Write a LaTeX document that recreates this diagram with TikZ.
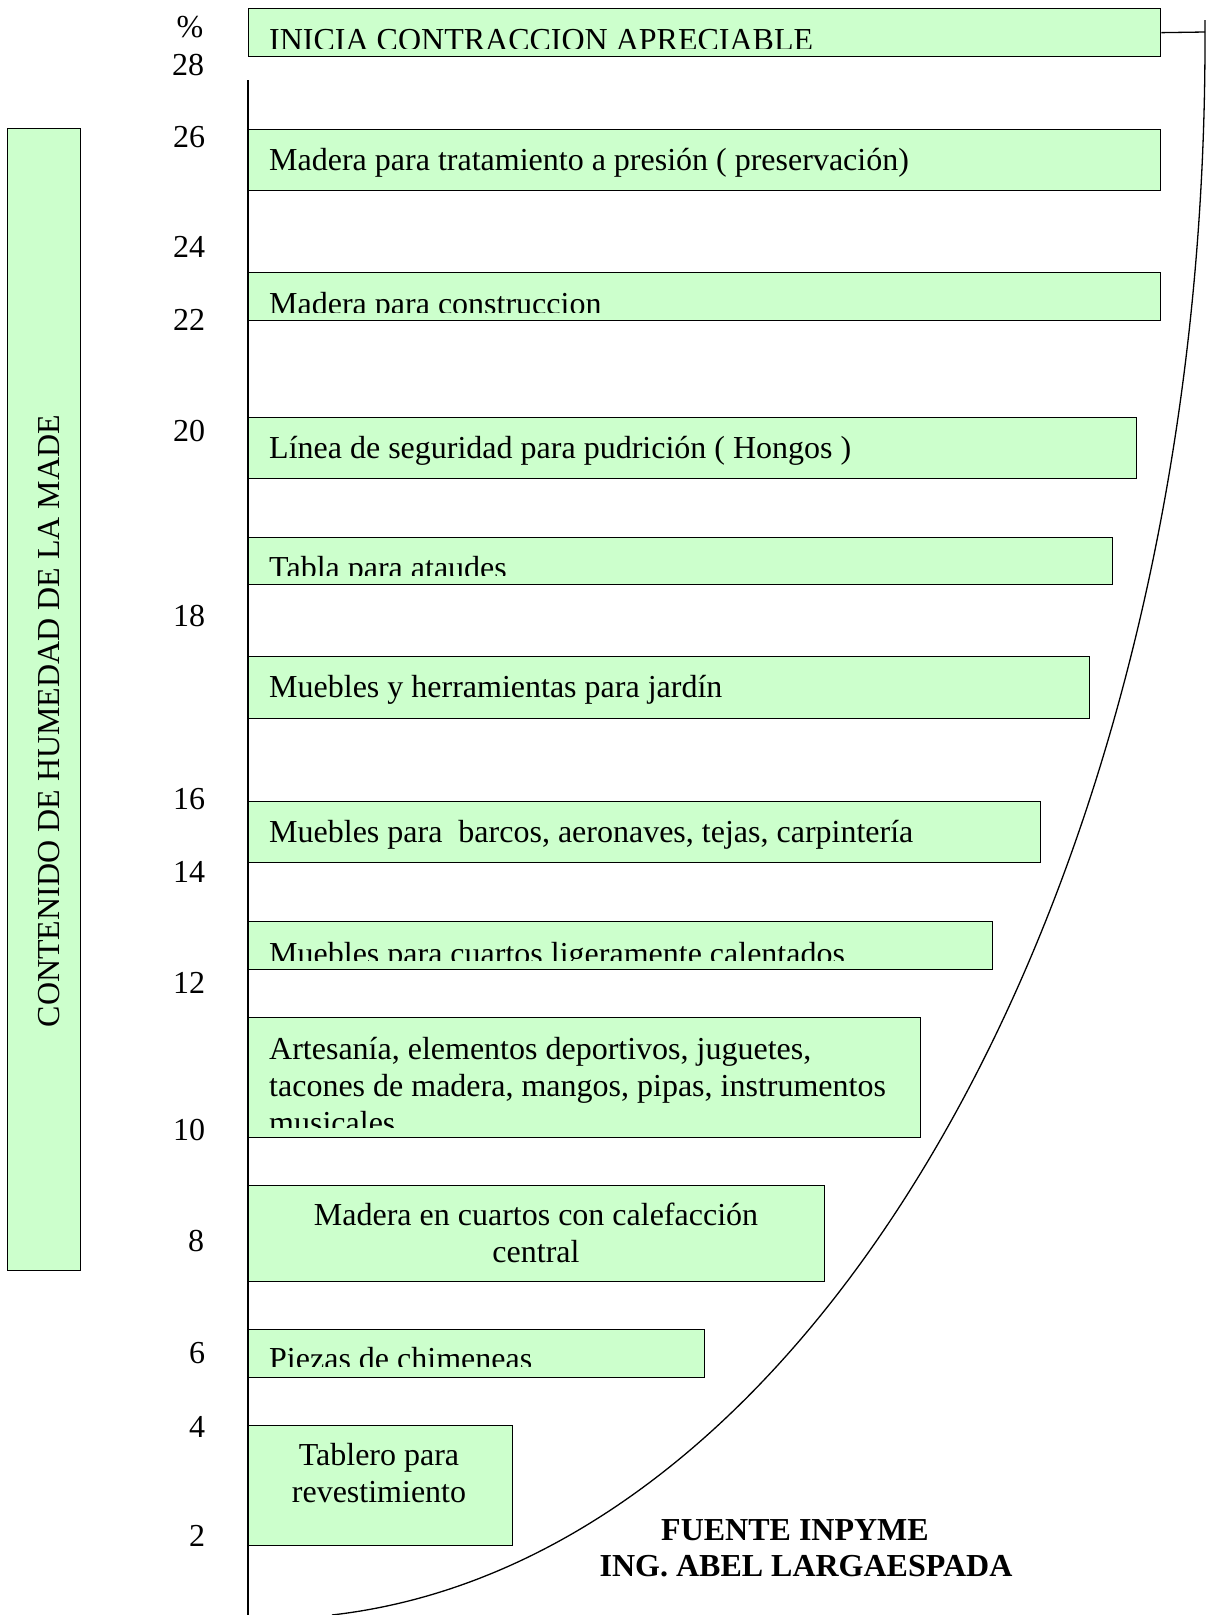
\documentclass[tikz,border=0pt]{standalone}
\usepackage{fontspec}
\setmainfont{Liberation Serif}
\definecolor{barfill}{RGB}{204,255,204}
\tikzset{
  barbox/.style={draw, line width=1.3pt, fill=barfill, rectangle, inner sep=0pt, anchor=north west},
  bartext/.style={anchor=base west, inner sep=0pt},
  midtext/.style={anchor=base, inner sep=0pt},
  numtext/.style={anchor=base, inner sep=0pt}
}
\begin{document}
\begin{tikzpicture}[x=1pt,y=-1pt,font=\fontsize{32}{37}\selectfont]
\useasboundingbox (0,0) rectangle (1206,1615);
% eje y curva
\coordinate (axtop) at (248,80);
\coordinate (axbot) at (248,1615);
\draw[line width=1.3pt] (axtop) -- (axbot);
\coordinate (arctop) at (1205,20);
\coordinate (arcstart) at (1205,40);
\coordinate (bend) at (1205,32);
\draw[line width=1.3pt] (arctop) -- (arcstart) arc[start angle=0, end angle=-86.14, x radius=936pt, y radius=1578.6pt];
% barras
\node[barbox, minimum width=912pt, minimum height=48pt] (b28) at (248,8){};
\node[barbox, minimum width=912pt, minimum height=61pt] (b26) at (248,129){};
\node[barbox, minimum width=912pt, minimum height=48pt] (b22) at (248,272){};
\node[barbox, minimum width=888pt, minimum height=61pt] (b20) at (248,417){};
\node[barbox, minimum width=864pt, minimum height=47pt] (b19) at (248,537){};
\node[barbox, minimum width=841pt, minimum height=62pt] (b17) at (248,656){};
\node[barbox, minimum width=792pt, minimum height=61pt] (b15) at (248,801){};
\node[barbox, minimum width=744pt, minimum height=48pt] (b13) at (248,921){};
\node[barbox, minimum width=672pt, minimum height=120pt] (b11) at (248,1017){};
\node[barbox, minimum width=576pt, minimum height=96pt] (b8) at (248,1185){};
\node[barbox, minimum width=456pt, minimum height=48pt] (b6) at (248,1329){};
\node[barbox, minimum width=264pt, minimum height=120pt] (b3) at (248,1425){};
\draw[line width=1.3pt] (b28.east) -- (bend);
% textos
\begin{scope}
\clip (248,8) rectangle (1160,48);
\node[bartext] (t28) at (269,50){INICIA CONTRACCION APRECIABLE};
\end{scope}
\node[bartext] (t26) at (269,170){Madera para tratamiento a presión ( preservación)};
\begin{scope}
\clip (248,272) rectangle (1160,312);
\node[bartext] (t22) at (269,314){Madera para construccion};
\end{scope}
\node[bartext] (t20) at (269,458){Línea de seguridad para pudrición ( Hongos )};
\begin{scope}
\clip (248,537) rectangle (1112,575);
\node[bartext] (t19) at (269,578){Tabla para ataudes};
\end{scope}
\node[bartext] (t17) at (269,697){Muebles y herramientas para jardín};
\node[bartext] (t15) at (269,842){Muebles para \ barcos, aeronaves, tejas, carpintería};
\begin{scope}
\clip (248,921) rectangle (992,960);
\node[bartext] (t13) at (269,964){Muebles para cuartos ligeramente calentados};
\end{scope}
\node[bartext] (t11a) at (269,1059){Artesanía, elementos deportivos, juguetes,};
\node[bartext] (t11b) at (269,1096){tacones de madera, mangos, pipas, instrumentos};
\begin{scope}
\clip (248,1017) rectangle (920,1127);
\node[bartext] (t11c) at (269,1133){musicales};
\end{scope}
\node[midtext] (t8a) at (536,1225){Madera en cuartos con calefacción};
\node[midtext] (t8b) at (536,1262){central};
\begin{scope}
\clip (248,1329) rectangle (704,1366);
\node[bartext] (t6) at (269,1369){Piezas de chimeneas};
\end{scope}
\node[midtext] (t3a) at (379,1465){Tablero para};
\node[midtext] (t3b) at (379,1502){revestimiento};
% escala
\node[numtext] (pct) at (190,37){\%};
\node[numtext] (n28) at (188,75){28};
\node[numtext] (n26) at (189,147){26};
\node[numtext] (n24) at (189,257){24};
\node[numtext] (n22) at (189,330){22};
\node[numtext] (n20) at (189,441){20};
\node[numtext] (n18) at (189,626){18};
\node[numtext] (n16) at (189,809){16};
\node[numtext] (n14) at (189,882){14};
\node[numtext] (n12) at (189,993){12};
\node[numtext] (n10) at (189,1140){10};
\node[numtext] (n8) at (196,1251){8};
\node[numtext] (n6) at (197,1363){6};
\node[numtext] (n4) at (197,1437){4};
\node[numtext] (n2) at (197,1546){2};
% etiqueta vertical
\node[barbox, minimum width=73pt, minimum height=1142pt] (ybox) at (7,128){};
\node[rotate=90, inner sep=0pt] (ylabel) at (49,721){CONTENIDO DE HUMEDAD DE LA MADE};
% fuente
\node[midtext, font=\fontsize{32}{37}\selectfont\bfseries] (src1) at (795,1540){FUENTE INPYME};
\node[midtext, font=\fontsize{32}{37}\selectfont\bfseries] (src2) at (806,1576){ING. ABEL LARGAESPADA};
\end{tikzpicture}
\end{document}
